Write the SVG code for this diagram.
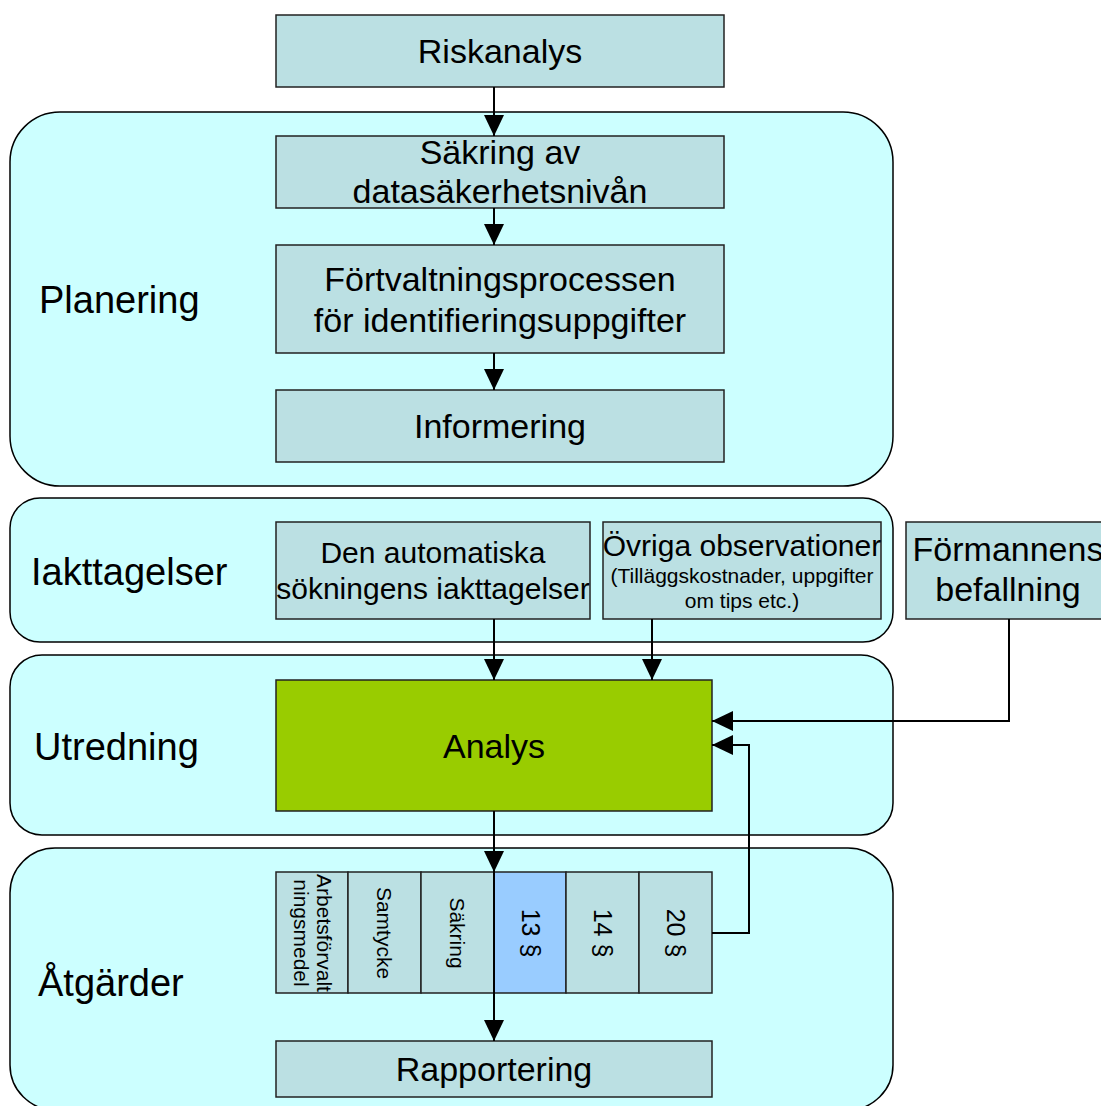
<svg xmlns="http://www.w3.org/2000/svg" width="1101" height="1106" viewBox="0 0 1101 1106">
<style>
.ctr{fill:#CCFFFF;stroke:#000;stroke-width:1.5}
.box{fill:#BBE0E3;stroke:#222;stroke-width:1.5}
.t{font-family:"Liberation Sans",Arial,sans-serif;fill:#000}
.m{font-size:34px;text-anchor:middle}
.o{font-size:30px;text-anchor:middle}
.s{font-size:21px;text-anchor:middle}
.lbl{font-size:38px}
.r{font-size:21px;text-anchor:middle}
.n{font-size:25px;text-anchor:middle}
.c{fill:none;stroke:#000;stroke-width:2}
</style>
<defs>
<marker id="ah" markerUnits="userSpaceOnUse" markerWidth="21" markerHeight="20" viewBox="0 0 21 20" refX="21" refY="10" orient="auto">
<path d="M0,0 L21,10 L0,20 z" fill="#000"/>
</marker>
</defs>
<rect width="1101" height="1106" fill="#fff"/>

<g id="planering">
<rect class="ctr" x="10" y="112" width="883" height="374" rx="50" ry="50"/>
<text class="t lbl" x="39" y="313">Planering</text>
</g>
<g id="iakttagelser">
<rect class="ctr" x="10" y="498" width="883" height="144" rx="30" ry="30"/>
<text class="t lbl" x="31" y="585">Iakttagelser</text>
</g>
<g id="utredning">
<rect class="ctr" x="10" y="655" width="883" height="180" rx="32" ry="32"/>
<text class="t lbl" x="34" y="760">Utredning</text>
</g>
<g id="atgarder">
<rect class="ctr" x="10" y="848" width="883" height="262" rx="45" ry="45"/>
<text class="t lbl" x="38" y="996">Åtgärder</text>
</g>

<g id="riskanalys">
<rect class="box" x="276" y="15" width="448" height="72"/>
<text class="t m" x="500" y="63">Riskanalys</text>
</g>
<g id="sakring-av">
<rect class="box" x="276" y="136" width="448" height="72"/>
<text class="t m" x="500" y="164">Säkring av</text>
<text class="t m" x="500" y="203">datasäkerhetsnivån</text>
</g>
<g id="fortvaltning">
<rect class="box" x="276" y="245" width="448" height="108"/>
<text class="t m" x="500" y="291">Förtvaltningsprocessen</text>
<text class="t m" x="500" y="332">för identifieringsuppgifter</text>
</g>
<g id="informering">
<rect class="box" x="276" y="390" width="448" height="72"/>
<text class="t m" x="500" y="438">Informering</text>
</g>
<g id="den-automatiska">
<rect class="box" x="276" y="522" width="314" height="97"/>
<text class="t o" x="433" y="563">Den automatiska</text>
<text class="t o" x="433" y="599">sökningens iakttagelser</text>
</g>
<g id="ovriga">
<rect class="box" x="603" y="522" width="278" height="97"/>
<text class="t o" x="742" y="556">Övriga observationer</text>
<text class="t s" x="742" y="583">(Tilläggskostnader, uppgifter</text>
<text class="t s" x="742" y="608">om tips etc.)</text>
</g>
<g id="formannens">
<rect class="box" x="906" y="522" width="210" height="97"/>
<text class="t m" x="1008" y="561">Förmannens</text>
<text class="t m" x="1008" y="601">befallning</text>
</g>
<g id="analys">
<rect x="276" y="680" width="436" height="131" fill="#99CC00" stroke="#222" stroke-width="1.5"/>
<text class="t m" x="494" y="758">Analys</text>
</g>

<g id="arbetsforvalt">
<rect class="box" x="276" y="872" width="72" height="121"/>
<text class="t r" transform="translate(312,933) rotate(90)"><tspan x="0" y="-5">Arbetsförvalt</tspan><tspan x="0" y="18">ningsmedel</tspan></text>
</g>
<g id="samtycke">
<rect class="box" x="348" y="872" width="73" height="121"/>
<text class="t r" transform="translate(384,933) rotate(90)" y="7">Samtycke</text>
</g>
<g id="sakring">
<rect class="box" x="421" y="872" width="73" height="121"/>
<text class="t r" transform="translate(457,933) rotate(90)" y="7">Säkring</text>
</g>
<g id="p13">
<rect x="494" y="872" width="72" height="121" fill="#99CCFF" stroke="#222" stroke-width="1.5"/>
<text class="t n" transform="translate(530,933) rotate(90)" y="8">13 §</text>
</g>
<g id="p14">
<rect class="box" x="566" y="872" width="73" height="121"/>
<text class="t n" transform="translate(602,933) rotate(90)" y="8">14 §</text>
</g>
<g id="p20">
<rect class="box" x="639" y="872" width="73" height="121"/>
<text class="t n" transform="translate(675,933) rotate(90)" y="8">20 §</text>
</g>
<g id="rapportering">
<rect class="box" x="276" y="1041" width="436" height="56"/>
<text class="t m" x="494" y="1081">Rapportering</text>
</g>

<g id="connectors">
<line class="c" x1="494" y1="87" x2="494" y2="136" marker-end="url(#ah)"/>
<line class="c" x1="494" y1="208" x2="494" y2="245" marker-end="url(#ah)"/>
<line class="c" x1="494" y1="353" x2="494" y2="390" marker-end="url(#ah)"/>
<line class="c" x1="494" y1="619" x2="494" y2="680" marker-end="url(#ah)"/>
<line class="c" x1="652" y1="619" x2="652" y2="680" marker-end="url(#ah)"/>
<polyline class="c" points="1009,619 1009,721 712,721" marker-end="url(#ah)"/>
<polyline class="c" points="712,933 749,933 749,745 712,745" marker-end="url(#ah)"/>
<line class="c" x1="494" y1="811" x2="494" y2="872" marker-end="url(#ah)"/>
<line class="c" x1="494" y1="872" x2="494" y2="1041" marker-end="url(#ah)"/>
</g>
</svg>
